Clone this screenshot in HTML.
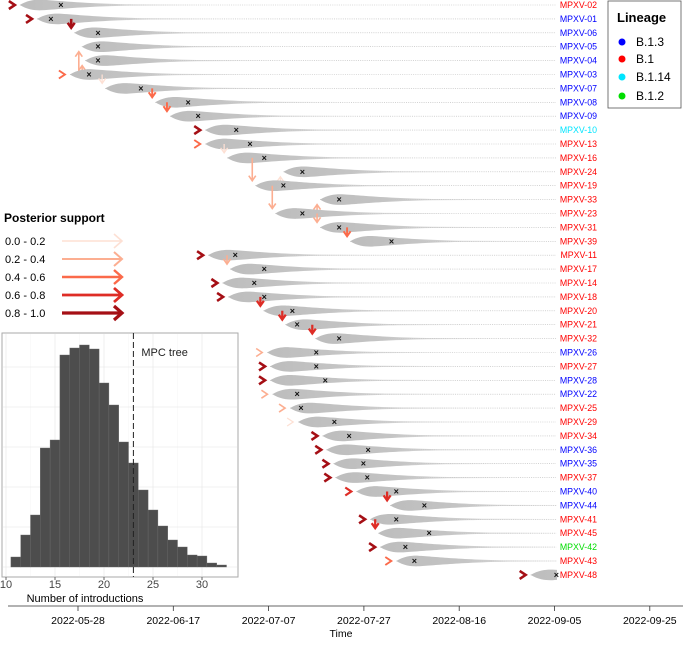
<!DOCTYPE html>
<html><head><meta charset="utf-8"><style>
body{margin:0;background:#fff;font-family:"Liberation Sans",sans-serif}
svg text{font-family:"Liberation Sans",sans-serif}
</style></head><body>
<svg id="c" width="683" height="640" viewBox="0 0 683 640" xmlns="http://www.w3.org/2000/svg">
<defs>
<linearGradient id="vg" x1="0" x2="1" y1="0" y2="0">
<stop offset="0" stop-color="#bdbdbd"/><stop offset="0.35" stop-color="#c4c4c4"/><stop offset="1" stop-color="#c4c4c4" stop-opacity="0"/>
</linearGradient>
<clipPath id="vclip"><rect x="0" y="0" width="557" height="600"/></clipPath>
</defs>
<g id="rows"></g>
<g id="lineage-legend">
<rect x="608" y="1" width="73" height="107" fill="#fff" stroke="#555" stroke-width="0.8"/>
<text x="617" y="22" font-size="13" font-weight="bold">Lineage</text>
<circle cx="622" cy="42" r="3.5" fill="#0000ff"/><text x="636" y="46" font-size="12">B.1.3</text>
<circle cx="622" cy="59" r="3.5" fill="#ff0000"/><text x="636" y="63" font-size="12">B.1</text>
<circle cx="622" cy="77" r="3.5" fill="#00e5ff"/><text x="636" y="81" font-size="12">B.1.14</text>
<circle cx="622" cy="96" r="3.5" fill="#00dd00"/><text x="636" y="100" font-size="12">B.1.2</text>
</g>
<g id="support-legend">
<text x="4" y="222" font-size="12" font-weight="bold">Posterior support</text>
</g>
<g id="hist"></g>
<g id="xaxis"></g>
</svg>
<script>
const labels=["MPXV-02","MPXV-01","MPXV-06","MPXV-05","MPXV-04","MPXV-03","MPXV-07","MPXV-08","MPXV-09","MPXV-10","MPXV-13","MPXV-16","MPXV-24","MPXV-19","MPXV-33","MPXV-23","MPXV-31","MPXV-39","MPXV-11","MPXV-17","MPXV-14","MPXV-18","MPXV-20","MPXV-21","MPXV-32","MPXV-26","MPXV-27","MPXV-28","MPXV-22","MPXV-25","MPXV-29","MPXV-34","MPXV-36","MPXV-35","MPXV-37","MPXV-40","MPXV-44","MPXV-41","MPXV-45","MPXV-42","MPXV-43","MPXV-48"];
const lineage=["B.1","B.1.3","B.1.3","B.1.3","B.1.3","B.1.3","B.1.3","B.1.3","B.1.3","B.1.14","B.1","B.1","B.1","B.1","B.1","B.1","B.1","B.1","B.1","B.1","B.1","B.1","B.1","B.1","B.1","B.1.3","B.1","B.1.3","B.1.3","B.1","B.1","B.1","B.1.3","B.1.3","B.1","B.1.3","B.1.3","B.1","B.1","B.1.2","B.1","B.1"];
// days relative to 2022-05-28
const startDay=[-12.2,-8.6,-0.8,0.8,1.5,-1.7,5.7,16.2,19.3,26.7,26.7,31.3,43.1,37.2,50.8,41.4,50.8,57.1,27.3,31.9,30.3,31.5,38.9,43.5,49.8,39.7,40.3,40.3,40.8,44.5,46.2,51.3,52.1,53.6,54,58.4,65.5,61.3,63,63.4,66.8,95];
const mccDay=[-3.6,-5.7,4.2,4.2,4.2,2.3,13.2,23.1,25.2,33.2,36.1,39.1,47.1,43.1,54.8,47.1,54.8,65.8,33,39.1,37,39.1,45,46,54.8,50,50,51.9,46,46.8,53.8,56.9,60.9,59.9,60.7,66.8,72.7,66.8,73.7,68.7,70.6,100.4];
// -1 = introduction, otherwise index of parent row
const parent=[-1,-1,1,5,5,-1,5,6,7,-1,-1,10,13,11,15,13,15,16,-1,18,-1,-1,21,22,23,-1,-1,-1,-1,-1,-1,-1,-1,-1,-1,-1,35,-1,37,-1,-1,-1];
const support=[0.9,0.9,0.9,0.3,0.3,0.5,0.1,0.5,0.5,0.9,0.5,0.1,0.1,0.3,0.3,0.3,0.3,0.4,0.9,0.3,0.9,0.9,0.7,0.7,0.7,0.3,0.9,0.9,0.3,0.3,0.1,0.9,0.9,0.9,0.9,0.7,0.7,0.9,0.7,0.9,0.5,0.9];
const histBins=[11,12,13,14,15,16,17,18,19,20,21,22,23,24,25,26,27,28,29,30,31,32];
const histCounts=[10,32,52,119,127,212,219,222,218,184,162,125,104,77,57,41,27,20,12,11,4,2];
const mpcValue=23;
const dateTicks=["2022-05-28","2022-06-17","2022-07-07","2022-07-27","2022-08-16","2022-09-05","2022-09-25"];
const tickDays=[0,20,40,60,80,100,120];
const histTicks=[10,15,20,25,30];
const supportBands=["0.0 - 0.2","0.2 - 0.4","0.4 - 0.6","0.6 - 0.8","0.8 - 1.0"];

const NS="http://www.w3.org/2000/svg";
function mk(tag,attrs,parentEl){const e=document.createElementNS(NS,tag);for(const k in attrs)e.setAttribute(k,attrs[k]);parentEl.appendChild(e);return e;}
const xT=d=>78+d*4.765;
const yR=i=>5+i*13.9;
const linCol={"B.1":"#ff0000","B.1.3":"#0000ff","B.1.14":"#00e5ff","B.1.2":"#00dd00"};
const supCols=["#fde0d4","#fcae91","#fb6a4a","#de2d26","#a50f15"];
const supW=[1.6,2,2.4,2.8,3.2];
const band=s=>Math.min(4,Math.floor(s*5));

const rows=document.getElementById('rows');
labels.forEach((lab,i)=>{
  const y=yR(i),x0=xT(startDay[i]);
  const g=mk('g',{},rows);
  
  
  const dl=mk('line',{x1:x0,x2:556,y1:y,y2:y,stroke:'#888','stroke-width':0.6,'stroke-dasharray':'1 1.2',opacity:0.6},g);
  
  
  const pk=x0+22;
  const d=`M${x0},${y} C${x0+8},${y-5} ${pk-6},${y-5.5} ${pk},${y-5.3} C${pk+15},${y-4.5} ${pk+40},${y-1.5} ${pk+90},${y-0.6} L${pk+170},${y-0.3} L${pk+170},${y+0.3} L${pk+90},${y+0.6} C${pk+40},${y+1.5} ${pk+15},${y+4.5} ${pk},${y+5.3} C${pk-6},${y+5.5} ${x0+8},${y+5} ${x0},${y} Z`;
  const v=mk('path',{d:d,fill:'url(#vg)','clip-path':'url(#vclip)'},g);
  
  
  const mx=xT(mccDay[i]);
  const m=mk('text',{x:mx,y:y+3,'font-size':9,'text-anchor':'middle','font-weight':'bold',fill:'#111'},g);
  m.textContent='×';
  
  
  const t=mk('text',{x:597,y:y+3,'font-size':8.8,'text-anchor':'end',fill:linCol[lineage[i]]},g);
  t.textContent=lab;
  
  
  const b=band(support[i]),c=supCols[b];
  if(parent[i]<0){
    const ax=x0-6;
    const p=mk('path',{d:`M${ax-5},${y-4} L${ax+1},${y} L${ax-5},${y+4}`,fill:'none',stroke:c,'stroke-width':supW[b]*0.8},g);
    
    
  } else {
    const ax=x0-3,y1=yR(parent[i]),dir=y>y1?1:-1,y2=y-dir*5;
    const a=mk('path',{d:`M${ax},${y1} L${ax},${y2} M${ax-3.5},${y2-dir*5} L${ax},${y2} L${ax+3.5},${y2-dir*5}`,fill:'none',stroke:c,'stroke-width':supW[b]*0.8},g);
    
    
  }
});

const sl=document.getElementById('support-legend');
supportBands.forEach((s,k)=>{
  const y=241+k*18;
  const t=mk('text',{x:5,y:y+4,'font-size':11},sl);t.textContent=s;
  
  
  const a=mk('path',{d:`M62,${y} L122,${y} M114,${y-7} L122,${y} L114,${y+7}`,fill:'none',stroke:supCols[k],'stroke-width':supW[k]},sl);
  
  
});

const h=document.getElementById('hist');
const hx=v=>6+(v-10)*9.8, base=567, hy=c=>base-c;
mk('rect',{x:2,y:333,width:236,height:244,fill:'#fff',stroke:'#aaa','stroke-width':1},h);
[10,15,20,25,30].forEach(v=>{mk('line',{x1:hx(v),x2:hx(v),y1:334,y2:576,stroke:'#ebebeb','stroke-width':0.8},h);});
[12.5,17.5,22.5,27.5].forEach(v=>{mk('line',{x1:hx(v),x2:hx(v),y1:334,y2:576,stroke:'#f4f4f4','stroke-width':0.5},h);});
for(let k=0;k<6;k++){mk('line',{x1:3,x2:237,y1:base-k*40,y2:base-k*40,stroke:'#ebebeb','stroke-width':0.8},h);}
histBins.forEach((bv,k)=>{
  const r=mk('rect',{x:hx(bv-0.5),y:hy(histCounts[k]),width:hx(bv+0.5)-hx(bv-0.5),height:base-hy(histCounts[k]),fill:'#4d4d4d',stroke:'#6a6a6a','stroke-width':0.4},h);
  
  
});
const ml=mk('line',{x1:hx(mpcValue),x2:hx(mpcValue),y1:333,y2:577,stroke:'#222','stroke-width':1,'stroke-dasharray':'6 3'},h);


const mt=mk('text',{x:hx(mpcValue)+8,y:356,'font-size':11,fill:'#222'},h);mt.textContent='MPC tree';


histTicks.forEach(v=>{
  mk('line',{x1:hx(v),x2:hx(v),y1:577,y2:580,stroke:'#666'},h);
  const t=mk('text',{x:hx(v),y:588,'font-size':11,'text-anchor':'middle',fill:'#444'},h);t.textContent=v;
  
  
});
const hxt=mk('text',{x:85,y:602,'font-size':11,'text-anchor':'middle'},h);hxt.textContent='Number of introductions';



const xa=document.getElementById('xaxis');
mk('line',{x1:8,x2:683,y1:606,y2:606,stroke:'#333','stroke-width':0.8},xa);
dateTicks.forEach((s,k)=>{
  const x=xT(tickDays[k]);
  mk('line',{x1:x,x2:x,y1:606,y2:611,stroke:'#333','stroke-width':0.8},xa);
  const t=mk('text',{x:x,y:624,'font-size':10.5,'text-anchor':'middle'},xa);t.textContent=s;
  
  
});
const tt=mk('text',{x:341,y:637,'font-size':10.5,'text-anchor':'middle'},xa);tt.textContent='Time';


</script>
</body></html>
